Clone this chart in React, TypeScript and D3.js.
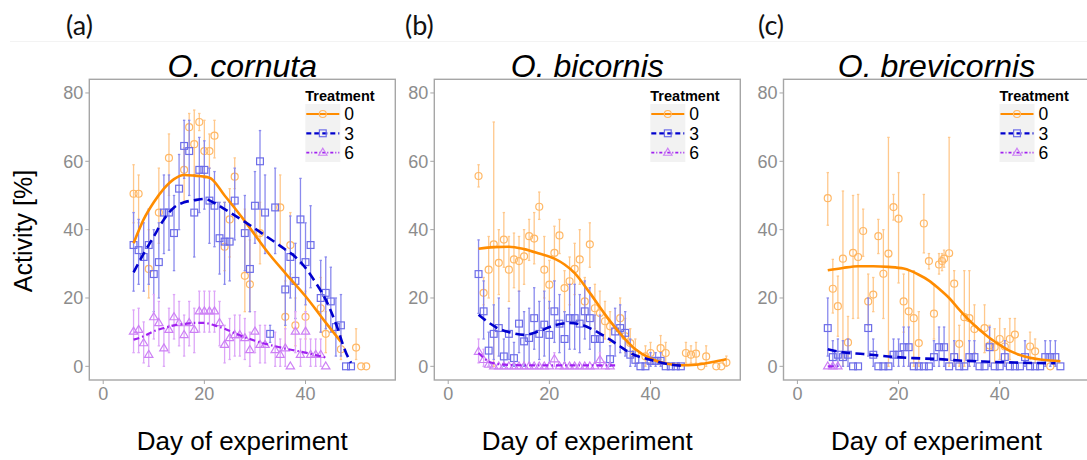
import React from "react";
import * as d3 from "d3";

// ---------- data: [day, mean, lower, upper] ----------
const panelTitles = ["O. cornuta", "O. bicornis", "O. brevicornis"];
const panelLetters = ["(a)", "(b)", "(c)"];
const treatments = ["0", "3", "6"];
const xTicks = [0, 20, 40];
const yTicks = [0, 20, 40, 60, 80];

const cornuta0 = [
  [6, 50.5, 42, 59], [7, 50.5, 42, 56], [9, 28.5, 20, 40], [11, 45, 36, 58], [13, 61, 50, 68],
  [16, 57.5, 48, 64], [17, 70, 64, 74], [18, 65, 56, 75], [19, 71.5, 69, 74], [20, 63, 55, 72],
  [21, 63, 58, 68], [22, 67.5, 61, 72], [24, 35, 28, 48], [25, 43, 32, 52], [26, 55.5, 52, 61],
  [28, 26.5, 16, 46], [29, 24, 16, 37], [31, 39, 30, 48], [35, 46.5, 35, 56], [36, 14.5, 6, 25],
  [37, 35.5, 27, 45], [38, 12, 6, 20], [40, 14.5, 8, 22], [43, 17, 10, 26], [44, 9.5, 4, 16],
  [47, 5, 2, 9], [50, 5.5, 2, 11], [51, 0, 0, 0], [52, 0, 0, 0],
];
const cornuta3 = [
  [6, 35.5, 22, 45], [7, 34, 24, 43], [8, 32, 22, 42], [9, 35.5, 24, 46], [10, 27, 16, 40],
  [11, 30.5, 20, 42], [12, 45, 33, 56], [13, 45, 34, 56], [14, 39, 28, 50], [15, 52, 40, 62],
  [16, 64.5, 55, 72], [17, 63, 50, 72], [18, 45, 32, 56], [19, 57.5, 45, 67], [20, 57.5, 46, 66],
  [21, 48.5, 36, 58], [22, 47, 35, 57], [23, 37.5, 27, 48], [24, 36.5, 24, 48], [25, 36.5, 25, 48],
  [26, 48.5, 37, 58], [28, 39, 28, 50], [29, 28.5, 16, 40], [30, 47, 36, 57], [31, 60, 46, 69],
  [32, 45, 33, 56], [33, 9.5, 7, 12], [34, 46.5, 33, 58], [36, 22.5, 12, 34], [37, 32, 20, 44],
  [38, 25, 14, 36], [39, 43, 30, 55], [40, 30.5, 18, 42], [41, 35.5, 23, 47], [43, 20, 10, 31],
  [44, 21.5, 11, 32], [45, 19, 10, 29], [46, 11.5, 3, 20], [47, 12, 3, 21], [48, 0, 0, 0], [49, 0, 0, 0],
];
const cornuta6 = [
  [6, 10.2, 4, 16.5], [7, 10.7, 4, 17], [8, 6.8, 1, 13], [9, 3.4, 0, 9], [10, 14.4, 8, 21],
  [11, 12.7, 6, 19], [12, 5.3, 0, 11], [13, 10.7, 4, 17], [14, 14.4, 8, 21], [15, 12.7, 6, 19],
  [16, 9.2, 3, 15], [17, 12.7, 6, 19], [18, 10.7, 4, 17], [19, 16.1, 10, 22], [20, 16.1, 10, 22],
  [21, 16.1, 10, 22], [22, 16.1, 10, 22], [23, 12.7, 6, 19], [24, 6.3, 1, 12], [25, 8.3, 2, 14],
  [26, 9.2, 3, 15], [27, 9.2, 3, 15], [28, 8.3, 2, 14], [29, 4.8, 0, 10], [30, 10.2, 4, 16],
  [31, 6.3, 1, 12], [32, 6.3, 1, 12], [34, 4.8, 0, 10], [35, 3.4, 0, 8], [36, 5.3, 0, 11],
  [37, 0, 0, 0], [38, 10.2, 4, 16], [39, 3.4, 0, 8], [40, 10.2, 4, 16], [41, 3.4, 0, 8],
  [42, 3.4, 0, 8], [43, 3.4, 0, 8], [44, 0, 0, 0],
];
const bicornis0 = [
  [6, 55.7, 52.5, 59], [7, 21.5, 18, 26], [8, 28.3, 20, 38], [9, 35.7, 0, 71.5], [10, 30.3, 21, 40],
  [11, 37.1, 29, 45], [12, 28.3, 19, 38], [13, 31.3, 23, 39], [14, 30.8, 22, 38], [15, 32.2, 24, 40],
  [16, 38.1, 31, 43], [17, 37.4, 30, 45], [18, 46.7, 43, 51], [19, 28.3, 20, 38], [20, 23.9, 17, 31],
  [21, 33.2, 25, 41], [22, 38.3, 33, 43], [23, 22.9, 16, 28], [24, 24.9, 18, 32], [25, 28.5, 21, 36],
  [26, 31.3, 24, 40], [27, 19, 12, 26], [28, 35.7, 29, 42], [29, 17, 11, 24], [30, 15.6, 10, 22],
  [31, 13.2, 8, 19], [32, 11.7, 7, 16], [34, 14.1, 9, 20], [35, 8.8, 4, 14], [36, 6.8, 3, 11],
  [37, 3.9, 1, 8], [39, 2.9, 0, 6], [40, 3.9, 1, 7], [42, 5.3, 2, 9], [43, 3.9, 1, 7],
  [47, 3.9, 1, 7], [48, 3.4, 1, 6], [49, 3.7, 1, 7], [50, 0, 0, 0], [51, 2.9, 0, 6],
  [53, 0, 0, 0], [54, 0, 0, 0], [55, 1.1, 0, 3],
];
const bicornis3 = [
  [6, 27, 15.5, 37], [7, 16.1, 8, 25], [8, 4.6, 0, 10], [9, 9.5, 2, 18], [10, 11.2, 3, 20],
  [11, 2.9, 0, 8], [12, 9.5, 2, 17], [13, 2.4, 0, 7], [14, 12.5, 4, 22], [15, 7.3, 0, 16],
  [16, 8.3, 1, 17], [17, 14.1, 5, 23], [18, 9.5, 2, 19], [19, 12.2, 3, 22], [20, 9.2, 1, 19],
  [21, 16.1, 7, 25], [22, 12.5, 4, 21], [23, 8, 1, 16], [24, 14.1, 5, 24], [25, 14.1, 5, 24],
  [26, 12.5, 4, 21], [27, 16.1, 8, 25], [28, 14.1, 5, 23], [29, 8, 1, 15], [30, 8, 1, 15],
  [32, 2.1, 0, 6], [33, 10.2, 3, 17], [34, 11.2, 4, 18], [35, 9.8, 3, 16], [36, 3.4, 0, 8],
  [37, 1.9, 0, 5], [38, 0, 0, 0], [39, 0, 0, 0], [40, 1.6, 0, 4], [41, 1.6, 0, 4],
  [42, 1.6, 0, 4], [43, 0, 0, 0], [44, 0, 0, 0], [45, 0, 0, 0], [46, 0, 0, 0],
];
const bicornis6 = [
  [6, 4.3, 1, 8], [7, 1.9, 0, 5], [8, 0.5, 0, 2], [9, 0, 0, 0], [10, 0, 0, 0], [11, 0, 0, 0],
  [12, 0, 0, 0], [13, 0, 0, 0], [14, 0, 0, 0], [15, 0, 0, 0], [16, 0, 0, 0], [17, 0, 0, 0],
  [18, 0, 0, 0], [19, 0, 0, 0], [20, 0, 0, 0], [21, 2.1, 0, 4], [22, 0, 0, 0], [23, 0, 0, 0],
  [24, 0, 0, 0], [25, 0, 0, 0], [26, 0, 0, 0], [27, 0, 0, 0], [28, 0, 0, 0], [29, 0, 0, 0],
  [30, 1.9, 0, 4], [31, 0, 0, 0], [32, 0, 0, 0],
];
const brevicornis0 = [
  [6, 49.2, 41.3, 56.7], [7, 22.7, 15.6, 31.3], [8, 17.6, 8.8, 26.4], [9, 31.5, 0, 51.3], [10, 7, 2.9, 14.6],
  [11, 33.2, 14, 50], [12, 32, 14.1, 50.3], [13, 39.6, 32.2, 46], [14, 19, 12, 27], [15, 21, 16, 26],
  [16, 38.1, 33, 43], [17, 27.1, 14, 40], [18, 33, 0, 67], [19, 46.6, 42.8, 50.3], [20, 43.2, 24.4, 56.7],
  [21, 19, 10, 27], [22, 16.1, 0, 28], [23, 14.1, 0, 28], [24, 6.8, 0, 16], [25, 41.8, 33.2, 50.3],
  [26, 30.8, 28.5, 33], [27, 15.4, 8, 24], [28, 29.8, 27, 33], [28.6, 30.8, 28, 33], [29, 31.5, 29, 34],
  [30, 33.1, 0, 67], [31, 24.2, 0, 28], [32, 6.6, 0, 12], [33, 14.4, 0, 28], [34, 14.1, 0, 28],
  [35, 10.9, 4, 18], [37, 11.2, 4, 18], [38, 6.1, 1, 12], [39, 5.6, 1, 11], [40, 8, 2, 14],
  [41, 5.8, 1, 11], [42, 8, 2, 14], [43, 9.3, 4, 14], [46, 5.8, 2, 10], [47, 4.4, 1, 8], [50, 0, 0, 0],
];
const brevicornis3 = [
  [6, 11.2, 3, 20], [7, 2.7, 0, 7.5], [8, 3.4, 0, 8], [9, 2.7, 0, 7.5], [10, 3.4, 0, 8],
  [11, 0, 0, 0], [12, 0, 0, 0], [14, 11.2, 3, 20], [15, 3.4, 0, 8], [16, 0, 0, 0],
  [17, 0, 0, 0], [18, 0, 0, 0], [19, 3.4, 0, 8], [20, 3.4, 0, 8], [21, 5.6, 0, 11.5],
  [22, 5.6, 0, 11.5], [23, 0, 0, 0], [24, 0, 0, 0], [25, 0, 0, 0], [26, 0, 0, 0],
  [27, 2.7, 0, 7.5], [28, 5.6, 0, 11.5], [29, 5.6, 0, 11.5], [30, 0, 0, 0], [31, 2.7, 0, 7.5],
  [32, 0, 0, 0], [33, 0, 0, 0], [34, 2.7, 0, 7.5], [35, 2.7, 0, 7.5], [36, 0, 0, 0],
  [37, 0, 0, 0], [38, 5.6, 0, 11.5], [39, 0, 0, 0], [40, 0, 0, 0], [41, 2.7, 0, 7.5],
  [42, 0, 0, 0], [43, 0, 0, 0], [44, 0, 0, 0], [45, 2.7, 0, 7.5], [46, 0, 0, 0],
  [47, 0, 0, 0], [48, 0, 0, 0], [49, 2.7, 0, 7.5], [50, 2.7, 0, 7.5], [51, 2.7, 0, 7.5], [52, 0, 0, 0],
];
const brevicornis6 = [[6, 0, 0, 0], [7, 0, 0, 0], [8, 0, 0, 0]];

// ---------- fitted curves: [day, value] ----------
const cornutaFit0 = [[6, 36], [8, 43], [10, 48], [12, 52], [14, 54.8], [16, 56], [18, 55.8], [21, 55.2], [24, 50], [28, 42.5], [33, 32.5], [36, 27.3], [40, 20.5], [44, 12.8], [47, 7.2]];
const cornutaFit3 = [[6, 27.5], [8, 33], [10, 38], [12, 43], [14, 46.5], [16, 48], [18, 48.6], [20, 49], [22, 47.8], [24, 46], [28, 42.3], [32, 38.3], [36, 34.2], [38, 32], [40, 28.8], [42, 24.5], [44, 19.5], [46, 12.5], [48, 4], [49, 1]];
const cornutaFit6 = [[6, 7.8], [8, 8.8], [10, 10.3], [12, 11.2], [14, 12], [16, 12.4], [18, 12.7], [20, 12.7], [22, 12], [24, 11], [26, 9.7], [28, 8.5], [30, 7.5], [32, 6.6], [34, 5.9], [36, 5.2], [38, 4.6], [40, 4], [42, 3.3], [44, 2.6]];
const bicornisFit0 = [[6, 34.4], [9, 34.9], [12, 35], [15, 34.3], [18, 33], [21, 31.5], [23, 29.8], [25, 27.3], [28, 21.5], [31, 15.2], [34, 9.6], [37, 5], [40, 2.3], [43, 0.8], [46, 0.3], [49, 0.5], [52, 1.2], [55, 2.1]];
const bicornisFit3 = [[6, 15.1], [8, 12.8], [10, 11], [12, 10], [15, 9.2], [18, 10.3], [21, 12], [24, 12.7], [26, 12.3], [28, 11.2], [30, 9.6], [32, 7.8], [34, 5.8], [36, 3.9], [38, 2.7], [40, 1.9], [42, 1.1], [44, 0.5], [46, 0.2]];
const bicornisFit6 = [[6, 3.9], [7, 2.5], [8, 1.4], [9, 0.9], [11, 0.5], [15, 0.3], [20, 0.3], [25, 0.3], [30, 0.3], [33, 0.3]];
const brevicornisFit0 = [[6, 28.1], [9, 28.8], [12, 29.3], [15, 29.3], [18, 29.1], [21, 28.6], [24, 26.8], [26, 25.1], [28, 22.7], [30, 20], [32, 16.6], [34, 13.4], [36, 10.7], [38, 8.3], [40, 6.3], [42, 4.5], [44, 3.3], [46, 2.5], [48, 2], [50, 1.7], [52, 1.5]];
const brevicornisFit3 = [[6, 5], [9, 4.1], [13, 3.6], [18, 2.9], [23, 2.4], [28, 2.1], [32, 1.7], [37, 1.4], [43, 1.1], [51, 0.9]];
const brevicornisFit6 = [[6, 0], [8, 0]];

const panelPoints = [
  [cornuta0, cornuta3, cornuta6],
  [bicornis0, bicornis3, bicornis6],
  [brevicornis0, brevicornis3, brevicornis6],
];
const panelFits = [
  [cornutaFit0, cornutaFit3, cornutaFit6],
  [bicornisFit0, bicornisFit3, bicornisFit6],
  [brevicornisFit0, brevicornisFit3, brevicornisFit6],
];

// ---------- styles ----------
const STY = [
  { line: "#FF8C00", pt: "#FFB866", bar: "#FFC88C", dash: null, lw: 2.6 },
  { line: "#0000CD", pt: "#6D6DE8", bar: "#8A8AEE", dash: "9 5", lw: 2.6 },
  { line: "#A020F0", pt: "#CD80F5", bar: "#DDA6F8", dash: "6 3 1.5 3", lw: 2.2 },
];

const FONT = "'Liberation Sans', Arial, sans-serif";
const PANEL_LEFT = [89.3, 434.3, 783.5];
const PANEL_W = 306;
const TOP = 79.3;
const BOTTOM = 380;

function Marker({ kind, x, y, color }: { kind: number; x: number; y: number; color: string }) {
  if (kind === 0) return <circle cx={x} cy={y} r={3.5} fill="none" stroke={color} strokeWidth={1.2} />;
  if (kind === 1) return <rect x={x - 3.4} y={y - 3.4} width={6.8} height={6.8} fill="none" stroke={color} strokeWidth={1.2} />;
  const s = 4.4;
  return (
    <path d={`M${x},${y - s} L${x + s * 0.95},${y + s * 0.6} L${x - s * 0.95},${y + s * 0.6} Z`} fill="none" stroke={color} strokeWidth={1.2} />
  );
}

function Panel({ idx }: { idx: number }) {
  const left = PANEL_LEFT[idx];
  const right = left + PANEL_W;
  const x = d3.scaleLinear().domain([-2.75, 57.75]).range([left, right]);
  const y = d3.scaleLinear().domain([-4, 84]).range([BOTTOM, TOP]);
  const line = d3
    .line<number[]>()
    .x((d) => x(d[0]))
    .y((d) => y(d[1]))
    .curve(d3.curveMonotoneX);
  const cx = (left + right) / 2;
  const legX = right - 90;
  return (
    <g>
      {/* panel letter and title */}
      <text x={[66, 405, 758][idx]} y={35} fontFamily="Lato, 'Open Sans', sans-serif" fontSize={27} fill="#111">
        {panelLetters[idx]}
      </text>
      <text x={cx} y={77} textAnchor="middle" fontFamily={FONT} fontStyle="italic" fontSize={32} fill="#000">
        {panelTitles[idx]}
      </text>
      <rect x={left} y={TOP} width={PANEL_W} height={BOTTOM - TOP} fill="#fff" />
      {/* error bars and points */}
      {panelPoints[idx].map((series, si) => (
        <g key={"s" + si}>
          {series.map((d, i) => (
            <g key={i}>
              {d[3] > d[2] && (
                <g stroke={STY[si].bar} strokeWidth={1.3}>
                  <line x1={x(d[0])} x2={x(d[0])} y1={y(d[2])} y2={y(d[3])} />
                  <line x1={x(d[0]) - 1.2} x2={x(d[0]) + 1.2} y1={y(d[2])} y2={y(d[2])} />
                  <line x1={x(d[0]) - 1.2} x2={x(d[0]) + 1.2} y1={y(d[3])} y2={y(d[3])} />
                </g>
              )}
              <Marker kind={si} x={x(d[0])} y={y(d[1])} color={STY[si].pt} />
            </g>
          ))}
        </g>
      ))}
      {/* fitted lines */}
      {panelFits[idx].map((f, si) => (
        <path
          key={"f" + si}
          d={line(f as number[][]) || ""}
          fill="none"
          stroke={STY[si].line}
          strokeWidth={STY[si].lw}
          strokeDasharray={STY[si].dash || undefined}
        />
      ))}
      {/* border */}
      <rect x={left} y={TOP} width={PANEL_W} height={BOTTOM - TOP} fill="none" stroke="#A6A6A6" strokeWidth={1.4} />
      {/* y axis */}
      {yTicks.map((t) => (
        <g key={"y" + t}>
          <line x1={left - 4} x2={left} y1={y(t)} y2={y(t)} stroke="#A6A6A6" strokeWidth={1} />
          <text x={left - 6} y={y(t)} dy="0.36em" textAnchor="end" fontFamily={FONT} fontSize={18} fill="#8C8C8C">
            {t}
          </text>
        </g>
      ))}
      {/* x axis */}
      {xTicks.map((t) => (
        <g key={"x" + t}>
          <line x1={x(t)} x2={x(t)} y1={BOTTOM} y2={BOTTOM + 4} stroke="#A6A6A6" strokeWidth={1} />
          <text x={x(t)} y={400} textAnchor="middle" fontFamily={FONT} fontSize={18} fill="#8C8C8C">
            {t}
          </text>
        </g>
      ))}
      <text x={cx} y={450} textAnchor="middle" fontFamily={FONT} fontSize={26} fill="#000">
        Day of experiment
      </text>
      {/* legend */}
      <text x={legX} y={101} fontFamily={FONT} fontWeight="bold" fontSize={14.5} fill="#000">
        Treatment
      </text>
      <rect x={legX} y={104} width={35} height={58} fill="#F2F2F2" />
      {treatments.map((t, si) => {
        const ry = 114 + si * 19.3;
        return (
          <g key={"l" + t}>
            <line
              x1={legX + 1}
              x2={legX + 34}
              y1={ry}
              y2={ry}
              stroke={STY[si].line}
              strokeWidth={si === 2 ? 1.8 : 2.2}
              strokeDasharray={si === 0 ? undefined : si === 1 ? "5 3" : "3 2 1 2"}
            />
            <Marker kind={si} x={legX + 17.5} y={ry} color={STY[si].pt} />
            <text x={legX + 39} y={ry} dy="0.36em" fontFamily={FONT} fontSize={17.5} fill="#000">
              {t}
            </text>
          </g>
        );
      })}
    </g>
  );
}

export default function App() {
  return (
    <svg
      width={1087}
      height={460}
      viewBox="0 0 1087 460"
      style={{ position: "absolute", left: 0, top: 0, background: "#fff" }}
    >
      <rect x={0} y={0} width={1087} height={460} fill="#fff" />
      <line x1={10} x2={1087} y1={41.5} y2={41.5} stroke="#F3F3F3" strokeWidth={1} />
      {[0, 1, 2].map((i) => (
        <Panel key={i} idx={i} />
      ))}
      <text
        transform="translate(32,231) rotate(-90)"
        textAnchor="middle"
        fontFamily={FONT}
        fontSize={25}
        fill="#000"
      >
        Activity [%]
      </text>
    </svg>
  );
}
